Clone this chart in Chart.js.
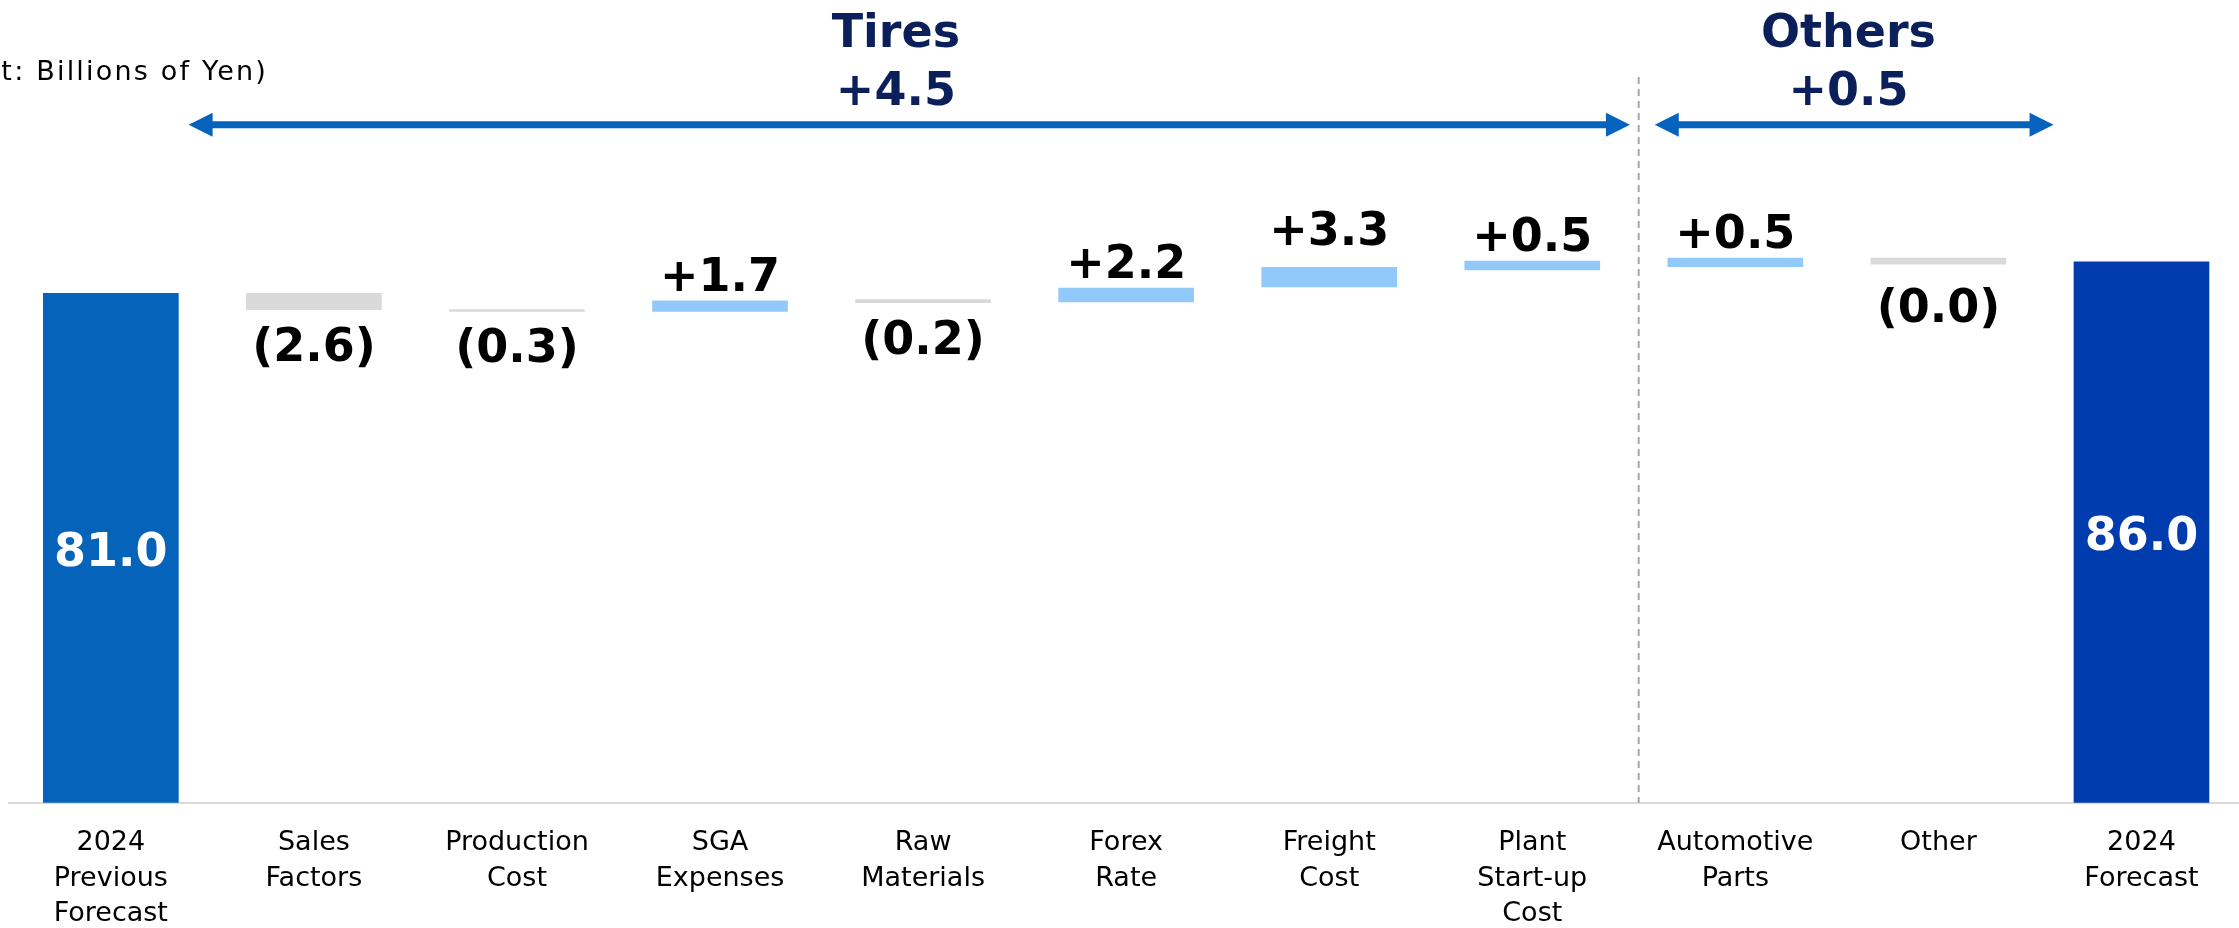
<!DOCTYPE html>
<html lang="en">
<head>
    <meta charset="UTF-8">
    <title>Operating Income Bridge</title>
    <script src="https://cdn.jsdelivr.net/npm/chart.js"></script>
    <style>
        html, body {
            margin: 0;
            padding: 0;
            background-color: #ffffff;
            overflow: hidden;
        }
        #wrap {
            position: relative;
            width: 2243px;
            height: 928px;
        }
    </style>
</head>
<body>
    <div id="wrap"><canvas id="bridge-chart"></canvas></div>

    <script>
        // categories (multi-line tick labels)
        const categories = [
            ['2024', 'Previous', 'Forecast'],
            ['Sales', 'Factors'],
            ['Production', 'Cost'],
            ['SGA', 'Expenses'],
            ['Raw', 'Materials'],
            ['Forex', 'Rate'],
            ['Freight', 'Cost'],
            ['Plant', 'Start-up', 'Cost'],
            ['Automotive', 'Parts'],
            ['Other'],
            ['2024', 'Forecast']
        ];
        // floating bar ranges as drawn in the picture (billions of yen)
        const barLow  = [0,    78.4, 78.1, 78.1, 79.5, 79.6, 82.0, 84.7, 85.2, 85.6, 0];
        const barHigh = [81.0, 81.0, 78.4, 79.8, 80.0, 81.8, 85.1, 86.1, 86.6, 86.6, 86.0];
        const valueLabels = ['81.0', '(2.6)', '(0.3)', '+1.7', '(0.2)', '+2.2', '+3.3', '+0.5', '+0.5', '(0.0)', '86.0'];
        const barKind = ['start', 'down', 'down', 'up', 'down', 'up', 'up', 'up', 'up', 'down', 'end'];

        const groupNames = ['Tires', 'Others'];
        const groupTotals = ['+4.5', '+0.5'];
        const unitText = '(Unit: Billions of Yen)';

        const kindColors = {
            start: '#0563B9',
            up: '#91C9FB',
            down: '#D9D9D9',
            end: '#003CAE'
        };

        const FONT = '"DejaVu Sans", Verdana, sans-serif';

        function drawArrow(ctx, x1, x2, y) {
            const head = 24, half = 12;
            ctx.lineWidth = 7;
            ctx.beginPath();
            ctx.moveTo(x1 + head - 2, y);
            ctx.lineTo(x2 - head + 2, y);
            ctx.stroke();
            ctx.beginPath();
            ctx.moveTo(x1, y);
            ctx.lineTo(x1 + head, y - half);
            ctx.lineTo(x1 + head, y + half);
            ctx.closePath();
            ctx.fill();
            ctx.beginPath();
            ctx.moveTo(x2, y);
            ctx.lineTo(x2 - head, y - half);
            ctx.lineTo(x2 - head, y + half);
            ctx.closePath();
            ctx.fill();
        }

        // labels, group arrows, divider and unit note
        const overlay = {
            id: 'overlay',
            afterDatasetsDraw(chart) {
                const ctx = chart.ctx;
                const xs = chart.scales.x;
                const area = chart.chartArea;
                const meta = chart.getDatasetMeta(0);
                // the slide places a couple of labels a little further from their bars
                const upGap = { 6: 22 };
                const downGap = { 9: 58 };
                ctx.save();

                ctx.font = 'bold 46px ' + FONT;
                ctx.textAlign = 'center';
                ctx.textBaseline = 'alphabetic';
                meta.data.forEach((bar, i) => {
                    const top = Math.min(bar.y, bar.base);
                    const bottom = Math.max(bar.y, bar.base);
                    const kind = barKind[i];
                    if (kind === 'start' || kind === 'end') {
                        ctx.fillStyle = '#ffffff';
                        ctx.fillText(valueLabels[i], bar.x, (top + bottom) / 2 + 18);
                    } else if (kind === 'up') {
                        ctx.fillStyle = '#000000';
                        ctx.fillText(valueLabels[i], bar.x, top - (upGap[i] || 10));
                    } else {
                        ctx.fillStyle = '#000000';
                        ctx.fillText(valueLabels[i], bar.x, bottom + (downGap[i] || 51));
                    }
                });

                // divider between Tires and Others
                const divX = xs.getPixelForValue(7.524);
                ctx.strokeStyle = '#A6A6A6';
                ctx.lineWidth = 2;
                ctx.setLineDash([7, 5]);
                ctx.beginPath();
                ctx.moveTo(divX, 77);
                ctx.lineTo(divX, area.bottom);
                ctx.stroke();
                ctx.setLineDash([]);

                // group arrows
                ctx.strokeStyle = '#0563BE';
                ctx.fillStyle = '#0563BE';
                drawArrow(ctx, xs.getPixelForValue(0.383), xs.getPixelForValue(7.481), 124.7);
                drawArrow(ctx, xs.getPixelForValue(7.603), xs.getPixelForValue(9.567), 124.7);

                // group headings
                const groupCenters = [xs.getPixelForValue(3.866), xs.getPixelForValue(8.557)];
                ctx.fillStyle = '#0B1F5B';
                ctx.font = 'bold 46px ' + FONT;
                ctx.textAlign = 'center';
                groupNames.forEach((name, g) => {
                    ctx.fillText(name, groupCenters[g], 47);
                    ctx.fillText(groupTotals[g], groupCenters[g], 105);
                });

                // unit note, clipped at the left edge like the source slide
                ctx.fillStyle = '#000000';
                ctx.font = '27px ' + FONT;
                ctx.textAlign = 'right';
                ctx.letterSpacing = '2.2px';
                ctx.fillText(unitText, 268, 80);

                ctx.restore();
            }
        };

        const bridgeChart = new Chart(document.getElementById('bridge-chart').getContext('2d'), {
            type: 'bar',
            data: {
                labels: categories,
                datasets: [{
                    data: barLow.map((low, i) => [low, barHigh[i]]),
                    backgroundColor: barKind.map(k => kindColors[k]),
                    borderWidth: 0,
                    barThickness: 135
                }]
            },
            options: {
                responsive: true,
                maintainAspectRatio: false,
                animation: false,
                devicePixelRatio: 1,
                layout: {
                    padding: { left: 9.3, top: 173.7, right: 0, bottom: 0 }
                },
                plugins: {
                    legend: { display: false },
                    tooltip: { enabled: false }
                },
                scales: {
                    x: {
                        grid: { display: false },
                        border: { display: true, color: '#D9D9D9', width: 2 },
                        ticks: {
                            color: '#000000',
                            font: { family: FONT, size: 27, lineHeight: 1.33 },
                            padding: 14,
                            maxRotation: 0,
                            autoSkip: false
                        },
                        afterFit(scale) {
                            scale.height = 125.3;
                        }
                    },
                    y: {
                        display: false,
                        min: 0,
                        max: 100
                    }
                }
            },
            plugins: [overlay]
        });
    </script>
</body>
</html>
